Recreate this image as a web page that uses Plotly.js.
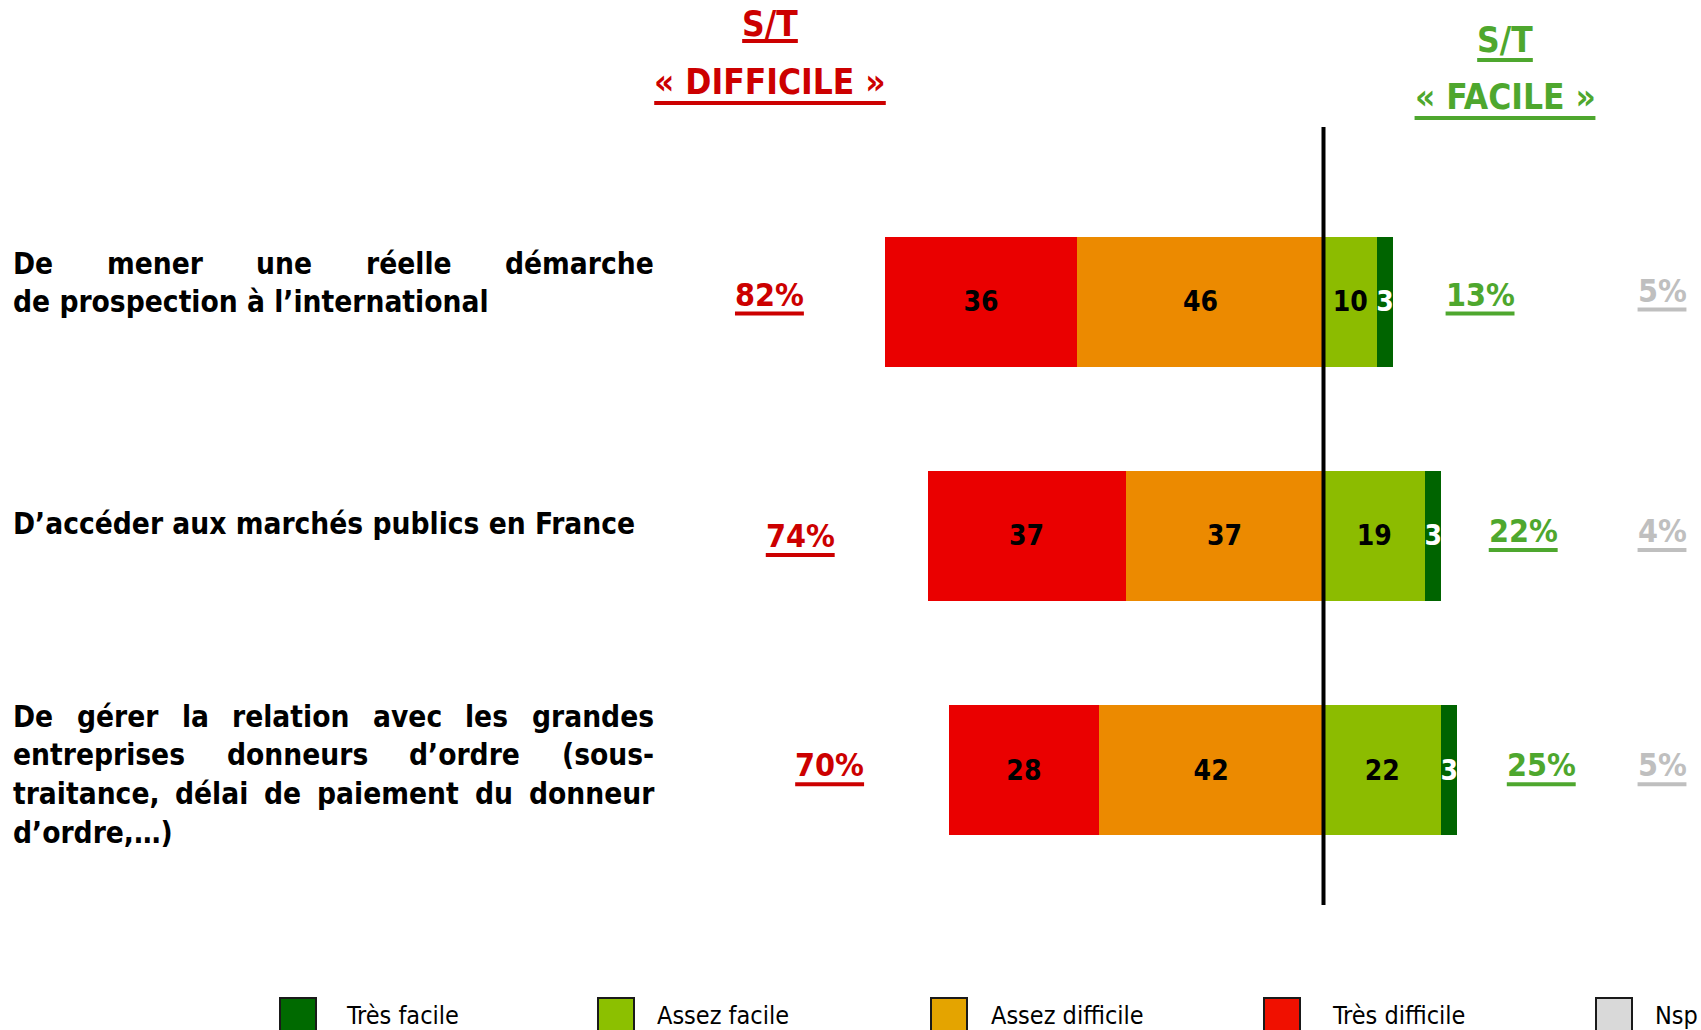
<!DOCTYPE html>
<html><head><meta charset="utf-8">
<script src="https://cdn.plot.ly/plotly-3.0.1.min.js"></script>
<style>html,body{margin:0;padding:0;background:#fff;overflow:hidden}</style>
</head><body><div id="chart" style="width:1701px;height:1030px"></div>
<script>
// ---------- DATA ----------
const labelLines = [
  ["De mener une réelle démarche", "de prospection à l’international"],
  ["D’accéder aux marchés publics en France"],
  ["De gérer la relation avec les grandes", "entreprises donneurs d’ordre (sous-", "traitance, délai de paiement du donneur", "d’ordre,…)"]
];
const categories = labelLines.map(lines => lines.reduce((a, l) => a === "" ? l : (a.endsWith("-") ? a + l : a + " " + l), ""));
const tresDifficile = [36, 37, 28];
const assezDifficile = [46, 37, 42];
const assezFacile = [10, 19, 22];
const tresFacile = [3, 3, 3];
const totalDifficile = [82, 74, 70];
const totalFacile = [13, 22, 25];
const nsp = [5, 4, 5];
const seriesNames = ["Très facile", "Assez facile", "Assez difficile", "Très difficile", "Nsp"];
const headerDifficile = ["S/T", "« DIFFICILE »"];
const headerFacile = ["S/T", "« FACILE »"];

// ---------- STYLE / LAYOUT CONSTANTS ----------
const W = 1701, H = 1030;
const FONT = "DejaVu Sans Condensed, DejaVu Sans, sans-serif";
const CFONT = '"DejaVu Sans Condensed", "DejaVu Sans", sans-serif';
const ZERO_PX = 1323.5, PXU = 5.35;
const ROW0_PX = 301.6, ROW_STEP = 234.3, BAR_PX = 130;
const RED = "#cc0000", GREEN = "#4ea72e", GREY = "#bfbfbf";
const colors = {
  "Très facile": "#006400",
  "Assez facile": "#8cbc00",
  "Assez difficile": "#ec8a00",
  "Très difficile": "#ea0000",
  "Nsp": "#d9d9d9"
};
const legendColors = ["#006a00", "#8cc000", "#e4a400", "#f01000", "#d9d9d9"];
const legendSquareX = [280, 598, 931, 1264, 1596];
const legendTextX = [345, 656, 990, 1331, 1654];
// per-row nudges of the percent labels (pixels: dx right, dy up)
const redNudge = [[5, 7], [-7, 0], [1, 5]];
const greenNudge = [[3, 7], [-2, 5], [0, 5]];
const greyNudge = [[0, 11], [0, 5], [0, 5]];

const xRange = [-ZERO_PX / PXU, (W - ZERO_PX) / PXU];
const yRange = [(H - ROW0_PX) / ROW_STEP, -ROW0_PX / ROW_STEP];
const BAR_W = BAR_PX / ROW_STEP;

const cv = document.createElement("canvas").getContext("2d");
function measure(text, size, bold) {
  cv.font = (bold ? "bold " : "") + size + "px " + CFONT;
  return cv.measureText(text).width;
}
const px2x = p => p / W;
const px2y = p => 1 - p / H;

// ---------- TRACES ----------
function barTrace(name, vals, sign, textColor) {
  return {
    type: "bar", orientation: "h", name: name,
    y: categories, x: vals.map(v => sign * v),
    text: vals.map(String), textposition: "inside", insidetextanchor: "middle",
    textangle: 0, constraintext: "none",
    insidetextfont: {family: FONT, size: 28, color: textColor, weight: "bold"},
    marker: {color: colors[name], line: {width: 0}},
    width: BAR_W, showlegend: false, hoverinfo: "skip"
  };
}
const traces = [
  barTrace("Assez difficile", assezDifficile, -1, "#000"),
  barTrace("Très difficile", tresDifficile, -1, "#000"),
  barTrace("Assez facile", assezFacile, 1, "#000"),
  barTrace("Très facile", tresFacile, 1, "#fff")
];

// ---------- ANNOTATIONS & SHAPES ----------
const annotations = [];
const shapes = [];

// Left labels (justified)
const LBL_SIZE = 29.6, LBL_L = 12, LBL_R = 653;
const labelLineY = [[264, 302], [524], [717, 755, 794, 833]];
labelLines.forEach((lines, r) => {
  lines.forEach((line, k) => {
    const y = px2y(labelLineY[r][k]);
    const justify = k < lines.length - 1;
    const baseFont = {family: FONT, size: LBL_SIZE, color: "#000", weight: "bold"};
    if (!justify) {
      annotations.push({text: line, xref: "paper", yref: "paper", x: px2x(LBL_L), y: y,
        xanchor: "left", yanchor: "middle", showarrow: false, font: baseFont, borderpad: 0});
    } else {
      const words = line.split(" ");
      const widths = words.map(w => measure(w, LBL_SIZE, true));
      const total = widths.reduce((a, b) => a + b, 0);
      const gap = (LBL_R - LBL_L - total) / (words.length - 1);
      let xp = LBL_L;
      words.forEach((w, i) => {
        annotations.push({text: w, xref: "paper", yref: "paper", x: px2x(xp), y: y,
          xanchor: "left", yanchor: "middle", showarrow: false, font: baseFont, borderpad: 0});
        xp += widths[i] + gap;
      });
    }
  });
});

// Headers
function header(lines, cx, ys, uys, color, size) {
  lines.forEach((t, i) => {
    annotations.push({text: t, xref: "paper", yref: "paper", x: px2x(cx), y: px2y(ys[i]),
      xanchor: "center", yanchor: "middle", showarrow: false, borderpad: 0,
      font: {family: FONT, size: size, color: color, weight: "bold"}});
    const w = measure(t, size, true);
    shapes.push({type: "rect", xref: "paper", yref: "paper", layer: "above",
      x0: px2x(cx - w / 2), x1: px2x(cx + w / 2), y0: px2y(uys[i] - 2), y1: px2y(uys[i] + 2),
      fillcolor: color, line: {width: 0}});
  });
}
header(headerDifficile, 770, [24.5, 81.5], [41, 103], RED, 35);
header(headerFacile, 1505, [40, 97], [60, 118], GREEN, 35);

// Percent labels
const PCT_SIZE = 32;
function pct(text, xref, x, row, color, nudge) {
  annotations.push({text: text, xref: xref, yref: "y", x: x, y: row,
    xshift: nudge[0], yshift: nudge[1],
    xanchor: "center", yanchor: "middle", showarrow: false, borderpad: 0,
    font: {family: FONT, size: PCT_SIZE, color: color, weight: "bold"}});
  const w = measure(text, PCT_SIZE, true);
  shapes.push({type: "rect", xref: xref, yref: "y", layer: "above",
    xsizemode: "pixel", xanchor: x, x0: nudge[0] - w / 2, x1: nudge[0] + w / 2,
    ysizemode: "pixel", yanchor: row, y0: nudge[1] - 17, y1: nudge[1] - 21,
    fillcolor: color, line: {width: 0}});
}
categories.forEach((c, r) => {
  pct(totalDifficile[r] + "%", "x", -totalDifficile[r] - 22.5, r, RED, redNudge[r]);
  pct(totalFacile[r] + "%", "x", totalFacile[r] + 15.7, r, GREEN, greenNudge[r]);
  pct(nsp[r] + "%", "paper", 1662 / W, r, GREY, greyNudge[r]);
});

// Zero line
shapes.push({type: "line", xref: "x", yref: "paper", x0: 0, x1: 0,
  y0: px2y(905), y1: px2y(127), line: {color: "#000", width: 4}, layer: "above"});

// Legend (drawn manually to reproduce the large swatches)
seriesNames.forEach((n, i) => {
  shapes.push({type: "rect", xref: "paper", yref: "paper",
    x0: px2x(legendSquareX[i]), x1: px2x(legendSquareX[i] + 36),
    y0: px2y(1040), y1: px2y(998),
    fillcolor: legendColors[i], line: {color: "#1a1a1a", width: 2}});
  annotations.push({text: n, xref: "paper", yref: "paper", x: px2x(legendTextX[i]), y: px2y(1015),
    xanchor: "left", yanchor: "middle", showarrow: false, borderpad: 0,
    font: {family: FONT, size: 25, color: "#000"}});
});

const layout = {
  width: W, height: H,
  margin: {l: 0, r: 0, t: 0, b: 0, pad: 0},
  paper_bgcolor: "#fff", plot_bgcolor: "#fff",
  barmode: "relative", bargap: 0,
  showlegend: false,
  xaxis: {range: xRange, visible: false, fixedrange: true, zeroline: false, showgrid: false},
  yaxis: {type: "category", range: yRange, visible: false, fixedrange: true, showgrid: false},
  annotations: annotations,
  shapes: shapes
};
Plotly.newPlot("chart", traces, layout, {displayModeBar: false, staticPlot: true});
</script>
</body></html>
